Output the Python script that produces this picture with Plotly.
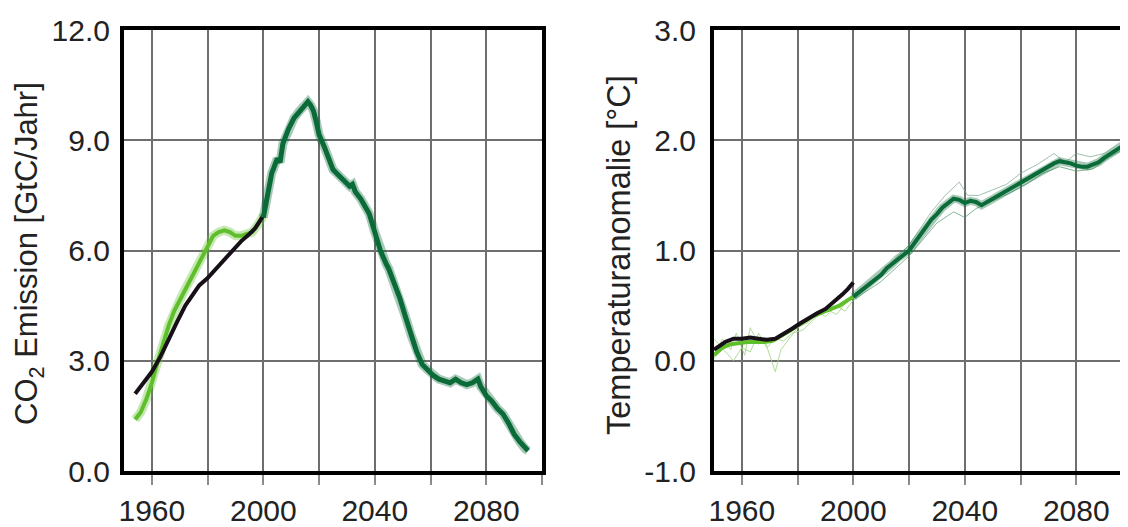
import plotly.graph_objects as go

# ---------------- data: left panel (CO2 emission, GtC/yr) ----------------
co2_obs_years = [1954, 1957, 1960, 1963, 1966, 1969, 1972, 1975, 1977, 1980, 1983, 1986, 1989, 1992, 1995, 1997, 2000]
co2_obs_vals = [2.1, 2.4, 2.7, 3.1, 3.6, 4.05, 4.5, 4.85, 5.05, 5.25, 5.5, 5.75, 6.0, 6.25, 6.45, 6.6, 6.95]

co2_hist_years = [1954, 1956, 1958, 1960, 1962, 1964, 1966, 1968, 1970, 1972, 1974, 1976, 1978, 1980, 1982, 1984, 1986, 1988, 1990, 1992, 1994, 1996, 1998, 2000]
co2_hist_vals = [1.4, 1.6, 1.95, 2.4, 2.95, 3.45, 3.95, 4.35, 4.65, 4.95, 5.25, 5.55, 5.8, 6.1, 6.4, 6.5, 6.55, 6.5, 6.4, 6.4, 6.45, 6.5, 6.7, 6.95]

co2_proj_years = [2000, 2002, 2003, 2005, 2006, 2007, 2009, 2011, 2013, 2015, 2016, 2017, 2018, 2019, 2020,
                  2022, 2024, 2025, 2027, 2029, 2031, 2032, 2033, 2035, 2036, 2038, 2040, 2042, 2044, 2045,
                  2047, 2049, 2051, 2053, 2055, 2057, 2059, 2061, 2063, 2065, 2067, 2069, 2071, 2073, 2075,
                  2077, 2078, 2080, 2082, 2084, 2086, 2088, 2090, 2092, 2094, 2095]
co2_proj_vals = [6.9, 7.8, 8.1, 8.5, 8.4, 8.9, 9.3, 9.6, 9.8, 10.0, 10.05, 9.95, 9.8, 9.5, 9.15,
                 8.8, 8.4, 8.2, 8.05, 7.9, 7.75, 7.8, 7.6, 7.4, 7.25, 7.0, 6.5, 6.0, 5.65, 5.5,
                 5.1, 4.7, 4.2, 3.7, 3.25, 2.9, 2.75, 2.6, 2.5, 2.45, 2.4, 2.5, 2.4, 2.35, 2.4,
                 2.5, 2.3, 2.05, 1.9, 1.7, 1.55, 1.3, 1.0, 0.8, 0.6, 0.55]

# ---------------- data: right panel (temperature anomaly, °C) ----------------
temp_obs_years = [1950, 1952, 1954, 1957, 1960, 1963, 1966, 1969, 1972, 1975, 1978, 1981, 1984, 1987, 1990, 1993, 1996, 1998, 2000]
temp_obs_vals = [0.10, 0.14, 0.17, 0.20, 0.20, 0.21, 0.20, 0.19, 0.20, 0.24, 0.29, 0.34, 0.39, 0.43, 0.47, 0.53, 0.60, 0.65, 0.71]

temp_hist_years = [1950, 1953, 1956, 1959, 1962, 1965, 1968, 1971, 1974, 1977, 1980, 1983, 1986, 1989, 1992, 1995, 1998, 2000]
temp_hist_vals = [0.05, 0.12, 0.15, 0.16, 0.17, 0.17, 0.17, 0.18, 0.22, 0.27, 0.32, 0.37, 0.41, 0.44, 0.47, 0.50, 0.55, 0.58]

temp_hist_m1_years = [1950, 1953, 1956, 1958, 1961, 1963, 1966, 1968, 1970, 1972, 1974, 1977, 1980, 1984, 1987, 1990, 1994, 1997, 2000]
temp_hist_m1_vals = [0.02, 0.2, 0.1, 0.25, 0.05, 0.3, 0.15, 0.2, 0.05, -0.1, 0.1, 0.2, 0.3, 0.35, 0.45, 0.4, 0.5, 0.45, 0.55]
temp_hist_m2_years = [1950, 1954, 1957, 1960, 1963, 1966, 1969, 1972, 1975, 1978, 1982, 1986, 1990, 1994, 1998, 2000]
temp_hist_m2_vals = [0.2, 0.08, 0.0, 0.12, 0.08, 0.25, 0.12, 0.2, 0.18, 0.25, 0.28, 0.38, 0.47, 0.42, 0.55, 0.6]

temp_proj_years = [2000, 2002, 2004, 2006, 2008, 2010, 2012, 2014, 2016, 2018, 2020, 2022, 2024, 2026, 2028,
                   2030, 2032, 2034, 2036, 2038, 2040, 2042, 2044, 2046, 2048, 2050, 2052, 2054, 2056, 2058,
                   2060, 2062, 2064, 2066, 2068, 2070, 2072, 2074, 2076, 2078, 2080, 2082, 2084, 2086, 2088,
                   2090, 2092, 2094, 2096, 2098]
temp_proj_vals = [0.58, 0.62, 0.66, 0.70, 0.75, 0.78, 0.84, 0.88, 0.93, 0.97, 1.0, 1.07, 1.14, 1.22, 1.28,
                  1.33, 1.39, 1.43, 1.47, 1.46, 1.43, 1.45, 1.44, 1.41, 1.44, 1.47, 1.49, 1.52, 1.55, 1.58,
                  1.61, 1.64, 1.67, 1.70, 1.73, 1.76, 1.79, 1.81, 1.80, 1.79, 1.77, 1.76, 1.76, 1.78, 1.80,
                  1.84, 1.87, 1.91, 1.94, 1.97]

temp_proj_m1_years = [2000, 2010, 2020, 2028, 2033, 2038, 2041, 2045, 2050, 2055, 2060, 2066, 2072, 2076, 2080, 2085, 2090, 2095, 2098]
temp_proj_m1_vals = [0.6, 0.8, 1.05, 1.35, 1.5, 1.62, 1.5, 1.5, 1.55, 1.6, 1.7, 1.78, 1.88, 1.8, 1.88, 1.85, 1.88, 1.97, 2.02]
temp_proj_m2_years = [2000, 2010, 2020, 2030, 2036, 2040, 2044, 2050, 2056, 2062, 2068, 2074, 2080, 2086, 2092, 2098]
temp_proj_m2_vals = [0.55, 0.72, 0.95, 1.25, 1.35, 1.3, 1.38, 1.45, 1.52, 1.6, 1.7, 1.76, 1.72, 1.74, 1.85, 1.93]

# ---------------- axis labels ----------------
x_label_years = [1960, 2000, 2040, 2080]
x_label_text = ["1960", "2000", "2040", "2080"]
x_minor_years = [1980, 2020, 2060, 2100]
co2_ticks = [0, 3, 6, 9, 12]
co2_tick_text = ["0.0", "3.0", "6.0", "9.0", "12.0"]
temp_ticks = [-1, 0, 1, 2, 3]
temp_tick_text = ["-1.0", "0.0", "1.0", "2.0", "3.0"]

DARK = "#0b6b38"
LIGHT = "#5fbf2a"
BLACK = "#181018"
GRID = "#6e6e6e"
TXT = "#222222"
FONT = "Liberation Sans"

fig = go.Figure()

def line(x, y, color, width, xa, ya, opacity=1.0):
    fig.add_trace(go.Scatter(x=x, y=y, mode="lines", line=dict(color=color, width=width),
                             opacity=opacity, xaxis=xa, yaxis=ya, showlegend=False, hoverinfo="skip"))

# left panel
line(co2_hist_years, co2_hist_vals, LIGHT, 9, "x", "y", 0.35)
line(co2_hist_years, co2_hist_vals, LIGHT, 4, "x", "y")
line(co2_obs_years, co2_obs_vals, BLACK, 4, "x", "y")
line(co2_proj_years, co2_proj_vals, DARK, 9, "x", "y", 0.35)
line(co2_proj_years, co2_proj_vals, DARK, 5, "x", "y")

# right panel
line(temp_hist_m1_years, temp_hist_m1_vals, "#9fd57f", 1, "x2", "y2", 0.8)
line(temp_hist_m2_years, temp_hist_m2_vals, "#9fd57f", 1, "x2", "y2", 0.8)
line(temp_proj_m1_years, temp_proj_m1_vals, "#7aa98c", 1, "x2", "y2", 0.7)
line(temp_proj_m2_years, temp_proj_m2_vals, "#4f9a6a", 1, "x2", "y2", 0.7)
line(temp_hist_years, temp_hist_vals, LIGHT, 4, "x2", "y2")
line(temp_obs_years, temp_obs_vals, BLACK, 4, "x2", "y2")
line(temp_proj_years, temp_proj_vals, DARK, 8, "x2", "y2", 0.35)
line(temp_proj_years, temp_proj_vals, DARK, 4, "x2", "y2")

# page body has an 8px margin -> figure occupies window minus 8px
OFF = 8
W, H = 1128 - OFF, 527 - OFF

def px(xr):  # reference x-pixel -> paper fraction
    return (xr - OFF) / W

def py(yr):  # reference y-pixel -> paper fraction
    return (H - (yr - OFF)) / H

ydom = [py(471), py(30)]

xcommon = dict(tickmode="array", tickvals=x_label_years, ticktext=x_label_text,
               showgrid=True, gridcolor=GRID, gridwidth=1.5, automargin=False,
               ticks="outside", ticklen=10, tickwidth=1.5, tickcolor="#8a8a8a",
               minor=dict(tickmode="array", tickvals=x_minor_years, ticks="outside", ticklen=10,
                          tickwidth=1.5, tickcolor="#8a8a8a", showgrid=True, gridcolor=GRID, gridwidth=1.5),
               showline=True, linecolor="black", linewidth=4, mirror=True,
               zeroline=False, tickfont=dict(family=FONT, size=30, color=TXT))
ycommon = dict(tickmode="array", showgrid=True, gridcolor=GRID, gridwidth=1.5, automargin=False,
               ticks="", showline=True, linecolor="black", linewidth=4,
               zeroline=False, tickfont=dict(family=FONT, size=30, color=TXT))

x2_end = 1950 + (1128 - 714) / ((1132 - 714) / 150)

fig.update_layout(
    width=W, height=H, margin=dict(l=0, r=0, t=0, b=0, autoexpand=False),
    paper_bgcolor="white", plot_bgcolor="white",
    xaxis=dict(domain=[px(124), px(542)], range=[1950, 2100], anchor="y", **xcommon),
    yaxis=dict(domain=ydom, range=[0, 12], anchor="x", tickvals=co2_ticks, ticktext=co2_tick_text,
               mirror=True, ticklabelstandoff=4, **ycommon),
    xaxis2=dict(domain=[px(714), 1.0], range=[1950, x2_end], anchor="y2", **xcommon),
    yaxis2=dict(domain=ydom, range=[-1, 3], anchor="x2", tickvals=temp_ticks, ticktext=temp_tick_text,
                mirror=False, ticklabelstandoff=8, **ycommon),
    annotations=[
        dict(text="CO<sub>2</sub> Emission [GtC/Jahr]", xref="paper", yref="paper",
             x=px(29), y=py(254), textangle=-90, showarrow=False,
             xanchor="center", yanchor="middle", font=dict(family=FONT, size=31, color=TXT)),
        dict(text="Temperaturanomalie [°C]", xref="paper", yref="paper",
             x=px(619), y=py(255), textangle=-90, showarrow=False,
             xanchor="center", yanchor="middle", font=dict(family=FONT, size=32.5, color=TXT)),
    ],
)

fig.write_html("out.html")
